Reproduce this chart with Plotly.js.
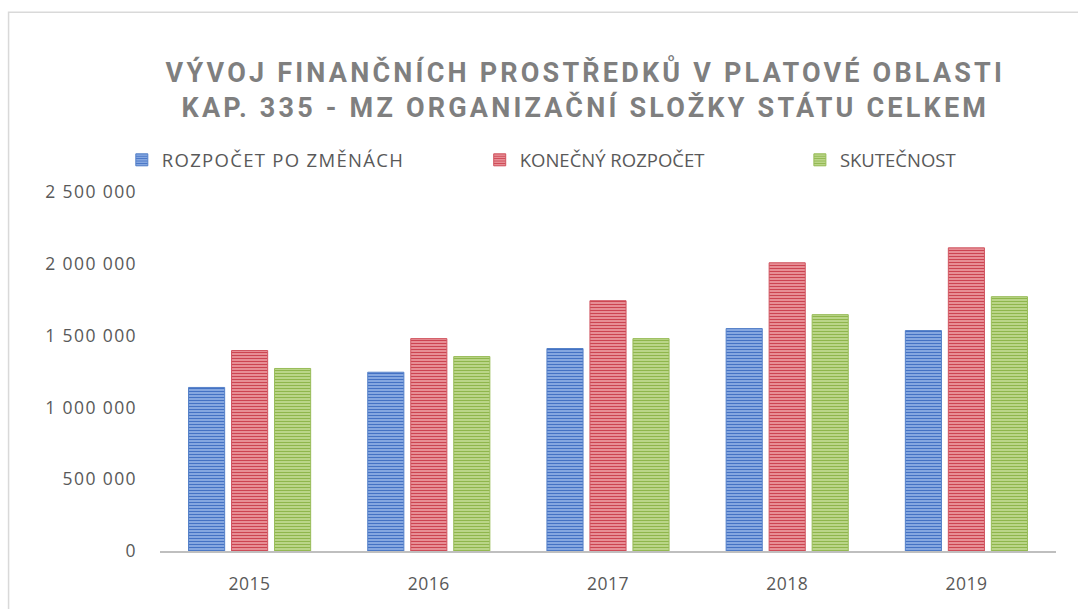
<!DOCTYPE html>
<html>
<head>
<meta charset="utf-8">
<script src="https://cdn.plot.ly/plotly-3.0.1.min.js"></script>
<style>
  html, body { margin: 0; padding: 0; background: #ffffff; }
  #chart { width: 1078px; height: 609px; }
  .gtitle { letter-spacing: 3.2px; }
  .ytick text { letter-spacing: 1.4px; }
  .xtick text { letter-spacing: 0.5px; }
  .legendtext { letter-spacing: 1.3px; }
</style>
</head>
<body>
<div id="chart"></div>
<script>
const years = ['2015', '2016', '2017', '2018', '2019'];
const seriesNames = ['ROZPOČET PO ZMĚNÁCH', 'KONEČNÝ ROZPOČET', 'SKUTEČNOST'];
const rozpocetPoZmenach = [1139000, 1245000, 1410000, 1549000, 1535000];
const konecnyRozpocet = [1396000, 1479000, 1743000, 2007000, 2111000];
const skutecnost = [1271000, 1354000, 1479000, 1646000, 1771000];
const titleText = 'VÝVOJ FINANČNÍCH PROSTŘEDKŮ V PLATOVÉ OBLASTI<br>KAP. 335 - MZ ORGANIZAČNÍ SLOŽKY STÁTU CELKEM';

const styles = [
  {fg: '#4472c4', bg: '#9bb9ea', line: '#5580c8', legend: 'legend'},
  {fg: '#cc4451', bg: '#f0a6ac', line: '#d05560', legend: 'legend2'},
  {fg: '#8fb64c', bg: '#c8df9c', line: '#98bc58', legend: 'legend3'}
];
const values = [rozpocetPoZmenach, konecnyRozpocet, skutecnost];

const data = values.map((v, i) => ({
  type: 'bar',
  name: seriesNames[i],
  x: years,
  y: v,
  legend: styles[i].legend,
  marker: {
    color: styles[i].bg,
    line: {color: styles[i].line, width: 1},
    pattern: {shape: '-', size: 3, solidity: 0.5, fgcolor: styles[i].fg, bgcolor: styles[i].bg, fillmode: 'replace'}
  },
  hoverinfo: 'skip'
}));

const tickFont = {family: 'Open Sans, Lato, sans-serif', size: 17.5, color: '#595959'};
const legendFont = {family: 'Open Sans, Lato, sans-serif', size: 18.5, color: '#595959'};

function legendAt(x) {
  return {
    xref: 'container', yref: 'container',
    x: x, y: 0.768, xanchor: 'left', yanchor: 'top',
    orientation: 'h', font: legendFont, bgcolor: 'rgba(0,0,0,0)',
    itemwidth: 30
  };
}

const layout = {
  width: 1078,
  height: 609,
  paper_bgcolor: '#ffffff',
  plot_bgcolor: '#ffffff',
  margin: {l: 160, r: 22, t: 192, b: 58},
  separators: ', ',
  title: {
    text: titleText,
    font: {family: 'Roboto, sans-serif', size: 27, color: '#7f7f7f', weight: 'bold'},
    xref: 'container', yref: 'container',
    x: 0.543, xanchor: 'center',
    y: 0.866, yanchor: 'top'
  },
  barmode: 'group',
  bargap: 0.28,
  bargroupgap: 0.16,
  showlegend: true,
  legend: legendAt(0.113),
  legend2: legendAt(0.445),
  legend3: legendAt(0.742),
  xaxis: {
    type: 'category',
    showline: true, linecolor: '#bfbfbf', linewidth: 2,
    ticks: '', showgrid: false, zeroline: false,
    tickfont: tickFont,
    ticklabelstandoff: 16,
    fixedrange: true
  },
  yaxis: {
    range: [0, 2500000],
    dtick: 500000,
    tickformat: ',d',
    showgrid: false, zeroline: false, showline: false,
    ticks: '',
    tickfont: tickFont,
    ticklabelstandoff: 22,
    fixedrange: true
  },
  shapes: [{
    type: 'rect', xref: 'paper', yref: 'paper',
    x0: -0.169, x1: 1.3, y0: -0.5, y1: 1.501,
    line: {color: '#d9d9d9', width: 1.5},
    fillcolor: 'rgba(0,0,0,0)',
    layer: 'below'
  }]
};

Plotly.newPlot('chart', data, layout, {staticPlot: true, displayModeBar: false});
</script>
</body>
</html>
